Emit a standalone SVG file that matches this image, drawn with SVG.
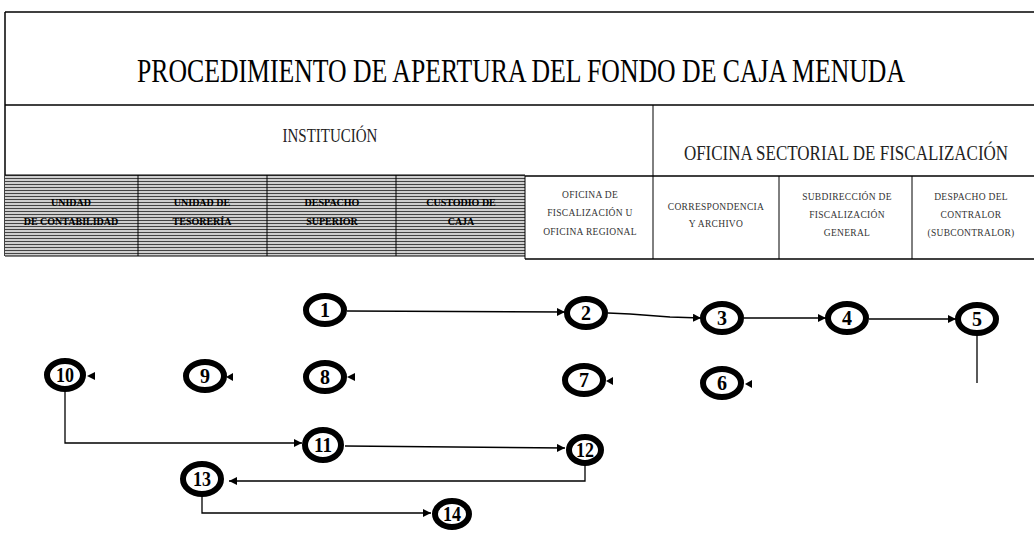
<svg xmlns="http://www.w3.org/2000/svg" width="1034" height="536" viewBox="0 0 1034 536">
<defs>
<pattern id="hatch" width="4" height="3" patternUnits="userSpaceOnUse">
<rect width="4" height="3" fill="#cfcfcf"/>
<rect y="1" width="4" height="1" fill="#444"/>
</pattern>
<marker id="arr" viewBox="0 0 10 10" refX="10" refY="5" markerWidth="8" markerHeight="8" markerUnits="userSpaceOnUse" orient="auto">
<path d="M0,0 L10,5 L0,10 Z" fill="#000"/>
</marker>
<style>
.frame{stroke:#000;stroke-width:1.5;fill:none}
.thin{stroke:#000;stroke-width:1;fill:none}
.title{font-family:"Liberation Serif",serif;font-size:27px;fill:#000}
.sec{font-family:"Liberation Serif",serif;fill:#222}
.col{font-family:"Liberation Serif",serif;font-size:10px;font-weight:bold;fill:#000;text-anchor:middle}
.colw{font-family:"Liberation Serif",serif;font-size:9.5px;fill:#333;text-anchor:middle;letter-spacing:0.3px}
.node ellipse{fill:#fff;stroke:#000;stroke-width:6}
.node text{font-family:"Liberation Serif",serif;font-size:20px;font-weight:bold;fill:#000;text-anchor:middle}
.conn line,.conn polyline{stroke:#000;stroke-width:1.3;fill:none}
.tri{fill:#000}
</style>
</defs>
<g id="header">
<line class="frame" x1="5" y1="12" x2="1034" y2="12"/>
<line class="frame" x1="5" y1="12" x2="5" y2="256"/>
<text class="title" x="521" y="65.6" transform="scale(1,1.25)" text-anchor="middle" textLength="768" lengthAdjust="spacingAndGlyphs">PROCEDIMIENTO DE APERTURA DEL FONDO DE CAJA MENUDA</text>
<line class="frame" x1="5" y1="105" x2="1034" y2="105"/>
<line class="thin" x1="653" y1="105" x2="653" y2="259"/>
<text class="sec" x="330" y="118" transform="scale(1,1.2)" font-size="15" text-anchor="middle">INSTITUCIÓN</text>
<text class="sec" x="846" y="133.5" transform="scale(1,1.2)" font-size="17" text-anchor="middle">OFICINA SECTORIAL DE FISCALIZACIÓN</text>
<rect x="5" y="175" width="520" height="81" fill="url(#hatch)"/>
<line class="thin" x1="5" y1="175" x2="525" y2="175"/>
<line class="thin" x1="5" y1="256" x2="525" y2="256"/>
<line class="thin" x1="138" y1="175" x2="138" y2="256"/>
<line class="thin" x1="267" y1="175" x2="267" y2="256"/>
<line class="thin" x1="396" y1="175" x2="396" y2="256"/>
<line class="frame" x1="525" y1="176" x2="1034" y2="176"/>
<line class="frame" x1="525" y1="259" x2="1034" y2="259"/>
<line class="thin" x1="525" y1="176" x2="525" y2="259"/>
<line class="thin" x1="779" y1="176" x2="779" y2="259"/>
<line class="thin" x1="912" y1="176" x2="912" y2="259"/>
</g>
<g id="col-contabilidad"><text class="col" x="71" y="206">UNIDAD</text><text class="col" x="71" y="225">DE CONTABILIDAD</text></g>
<g id="col-tesoreria"><text class="col" x="202" y="206">UNIDAD DE</text><text class="col" x="202" y="225">TESORERÍA</text></g>
<g id="col-despacho"><text class="col" x="332" y="206">DESPACHO</text><text class="col" x="332" y="225">SUPERIOR</text></g>
<g id="col-custodio"><text class="col" x="461" y="206">CUSTODIO DE</text><text class="col" x="461" y="225">CAJA</text></g>
<g id="col-oficina"><text class="colw" x="590" y="198">OFICINA DE</text><text class="colw" x="590" y="216">FISCALIZACIÓN U</text><text class="colw" x="590" y="235">OFICINA REGIONAL</text></g>
<g id="col-correspondencia"><text class="colw" x="716" y="210">CORRESPONDENCIA</text><text class="colw" x="716" y="227">Y ARCHIVO</text></g>
<g id="col-subdireccion"><text class="colw" x="847" y="200">SUBDIRECCIÓN DE</text><text class="colw" x="847" y="218">FISCALIZACIÓN</text><text class="colw" x="847" y="236">GENERAL</text></g>
<g id="col-contralor"><text class="colw" x="971" y="200">DESPACHO DEL</text><text class="colw" x="971" y="218">CONTRALOR</text><text class="colw" x="971" y="236">(SUBCONTRALOR)</text></g>
<g id="connectors" class="conn">
<line x1="347" y1="311" x2="565" y2="312" marker-end="url(#arr)"/>
<polyline points="608,313 630,314 670,317 701,318" marker-end="url(#arr)"/>
<line x1="744" y1="318" x2="826" y2="318" marker-end="url(#arr)"/>
<line x1="869" y1="319" x2="956" y2="319" marker-end="url(#arr)"/>
<line x1="977" y1="336" x2="977" y2="383"/>
<polyline points="65,392 65,443 302,443" marker-end="url(#arr)"/>
<line x1="345" y1="446" x2="565" y2="448" marker-end="url(#arr)"/>
<polyline points="585,466 585,481 229,481" marker-end="url(#arr)"/>
<polyline points="202,497 202,513 431,513" marker-end="url(#arr)"/>
<polygon class="tri" points="87,376 95,372 95,380"/>
<polygon class="tri" points="226,377 233,373 233,381"/>
<polygon class="tri" points="347,377 355,373 355,381"/>
<polygon class="tri" points="606,381 613,377 613,385"/>
<polygon class="tri" points="745,384 752,380 752,388"/>
</g>
<g id="n1" class="node"><ellipse cx="325" cy="310" rx="19" ry="14"/><text x="325" y="317">1</text></g>
<g id="n2" class="node"><ellipse cx="586" cy="313" rx="19" ry="14"/><text x="586" y="320">2</text></g>
<g id="n3" class="node"><ellipse cx="722" cy="318" rx="19" ry="14"/><text x="722" y="325">3</text></g>
<g id="n4" class="node"><ellipse cx="847" cy="318" rx="19" ry="14"/><text x="847" y="325">4</text></g>
<g id="n5" class="node"><ellipse cx="977" cy="319" rx="19" ry="14"/><text x="977" y="326">5</text></g>
<g id="n6" class="node"><ellipse cx="722" cy="383" rx="19" ry="14"/><text x="722" y="390">6</text></g>
<g id="n7" class="node"><ellipse cx="584" cy="380" rx="19" ry="14"/><text x="584" y="387">7</text></g>
<g id="n8" class="node"><ellipse cx="325" cy="377" rx="19" ry="14"/><text x="325" y="384">8</text></g>
<g id="n9" class="node"><ellipse cx="205" cy="376" rx="19" ry="14"/><text x="205" y="383">9</text></g>
<g id="n10" class="node"><ellipse cx="65" cy="375" rx="18" ry="14"/><text x="65" y="382" textLength="18" lengthAdjust="spacingAndGlyphs">10</text></g>
<g id="n11" class="node"><ellipse cx="323" cy="445" rx="18" ry="15"/><text x="323" y="452" textLength="18" lengthAdjust="spacingAndGlyphs">11</text></g>
<g id="n12" class="node"><ellipse cx="585" cy="450" rx="16" ry="13"/><text x="585" y="457" textLength="18" lengthAdjust="spacingAndGlyphs">12</text></g>
<g id="n13" class="node"><ellipse cx="202" cy="479" rx="19" ry="15"/><text x="202" y="486" textLength="18" lengthAdjust="spacingAndGlyphs">13</text></g>
<g id="n14" class="node"><ellipse cx="452" cy="514" rx="17" ry="13"/><text x="452" y="521" textLength="18" lengthAdjust="spacingAndGlyphs">14</text></g>
</svg>
